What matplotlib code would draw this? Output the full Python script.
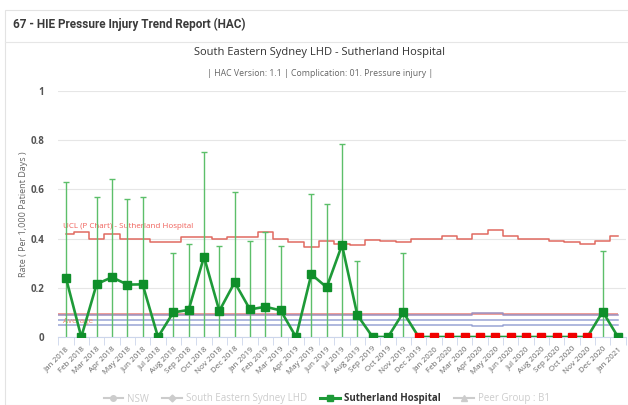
import numpy as np
import matplotlib.pyplot as plt
from matplotlib.lines import Line2D
from matplotlib.patches import Rectangle

plt.rcParams['font.family'] = ['Open Sans', 'DejaVu Sans']

# months Jan 2018 .. Jan 2021
mon = ['Jan', 'Feb', 'Mar', 'Apr', 'May', 'Jun', 'Jul', 'Aug', 'Sep', 'Oct', 'Nov', 'Dec']
months = [m + ' ' + str(y) for y in (2018, 2019, 2020) for m in mon] + ['Jan 2021']

# Sutherland Hospital rate (per 1,000 patient days)
rate = [0.24, 0, 0.215, 0.243, 0.213, 0.214, 0, 0.10, 0.11, 0.326, 0.106, 0.222,
        0.112, 0.123, 0.108, 0, 0.255, 0.202, 0.374, 0.089, 0, 0, 0.10,
        0, 0, 0, 0, 0, 0, 0, 0, 0, 0, 0, 0, 0.103, 0]
# months flagged red (no events run)
flag = [False] * 23 + [True] * 12 + [False, False]

# upper confidence bound per month (nan = none drawn)
nan = np.nan
upper = [0.631, nan, 0.57, 0.641, 0.562, 0.57, nan, 0.343, 0.378, 0.751, 0.37, 0.591,
         0.392, 0.428, 0.37, nan, 0.58, 0.539, 0.783, 0.31, nan, nan, 0.343,
         nan, nan, nan, nan, nan, nan, nan, nan, nan, nan, nan, nan, 0.351, nan]

# UCL (P chart) step line
ucl = [0.419, 0.428, 0.40, 0.42, 0.397, 0.397, 0.387, 0.387, 0.405, 0.405, 0.397, 0.408,
       0.408, 0.425, 0.40, 0.387, 0.366, 0.39, 0.378, 0.373, 0.394, 0.392, 0.386,
       0.397, 0.397, 0.41, 0.397, 0.42, 0.435, 0.41, 0.40, 0.397, 0.39, 0.387, 0.378,
       0.39, 0.412]

average = 0.094
peer_line = [0.091] * 27 + [0.096, 0.096] + [0.091] * 8
seslhd_line = [0.071] * 37
nsw_line = [0.049] * 27 + [0.046, 0.046] + [0.049] * 8

x = np.arange(len(months))

fig = plt.figure(figsize=(6.28, 4.05), dpi=100)

# panel frame and header
fig.patches.append(Rectangle((5 / 628, 0), 1, 395 / 405, transform=fig.transFigure,
                             fill=False, edgecolor='#e3e3e3', lw=0.8))
fig.add_artist(Line2D([5 / 628, 1], [1 - 42 / 405, 1 - 42 / 405], color='#e6e6e6', lw=0.8))
fig.text(13 / 628, 1 - 24 / 405, '67 - HIE Pressure Injury Trend Report (HAC)',
         fontsize=8.5, fontweight='bold', color='#3a3a3a', va='center',
         family=['Liberation Sans Narrow', 'Roboto', 'DejaVu Sans'])
fig.text(320 / 628, 1 - 53 / 405, 'South Eastern Sydney LHD - Sutherland Hospital',
         fontsize=8, color='#333333', ha='center', va='center')
fig.text(320 / 628, 1 - 73 / 405, '| HAC Version: 1.1 | Complication: 01. Pressure injury |',
         fontsize=6.3, color='#666666', ha='center', va='center')

ax = fig.add_axes([58.3 / 628, 68 / 405, 567.4 / 628, 246 / 405])
ax.set_xlim(-0.5, 36.5)
ax.set_ylim(0, 1)

ax.set_yticks([0, 0.2, 0.4, 0.6, 0.8, 1])
ax.set_yticklabels(['0', '0.2', '0.4', '0.6', '0.8', '1'])
ax.grid(axis='y', color='#e6e6e6', lw=0.8)
ax.set_axisbelow(True)
for s in ['top', 'right', 'left']:
    ax.spines[s].set_visible(False)
ax.spines['bottom'].set_color('#ccd6eb')
ax.tick_params(axis='y', length=0, pad=10, labelsize=7, labelcolor='#555555')
for t in ax.get_yticklabels():
    t.set_fontweight('bold')
ax.set_xticks(x)
ax.set_xticklabels(months, rotation=45, ha='right', rotation_mode='anchor',
                   fontsize=5.8, color='#666666')
ax.tick_params(axis='x', length=0, pad=6)
ax.set_xticks(np.arange(-0.5, 37, 1), minor=True)
ax.tick_params(axis='x', which='minor', length=6, color='#ccd6eb')
ax.set_ylabel('Rate ( Per 1,000 Patient Days )', fontsize=6.5, color='#666666', labelpad=2)

# reference lines
ax.hlines(average, -0.5, 36, color='#e8837a', lw=1.1, zorder=2)
for vals, col in [(peer_line, '#9c8fbf'), (seslhd_line, '#99a4d4'), (nsw_line, '#99a4d4')]:
    ax.hlines(vals[0], -0.5, 0, color=col, lw=1.1, zorder=2)
    ax.plot(x, vals, drawstyle='steps-mid', color=col, lw=1.1, zorder=2)

# UCL
ax.plot(x, ucl, drawstyle='steps-mid', color='#e06a60', lw=1.1, zorder=3)
ax.text(-0.2, 0.433, 'UCL (P Chart) - Sutherland Hospital', color='#f0605a',
        fontsize=5.8, va='bottom', zorder=4)
ax.text(-0.2, 0.065, 'Average', color='#f08a6a', fontsize=5.8, va='center', zorder=4)

# confidence bars
up = np.array(upper)
ok = ~np.isnan(up)
ax.vlines(x[ok], 0, up[ok], color='#5cbf6a', lw=1.0, zorder=4)
ax.plot(x[ok], up[ok], ls='none', marker='_', ms=5, mew=1.0, color='#5cbf6a', zorder=4)

# main series
green = '#1e9a38'
ax.plot(x, rate, color=green, lw=1.9, zorder=5)
r = np.array(rate)
f = np.array(flag)
ax.plot(x[~f], r[~f], ls='none', marker='s', ms=5.2, color='#0f8f2a', zorder=6)
ax.plot(x[f], r[f], ls='none', marker='s', ms=5.2, color='#f00000', zorder=6)

# legend
handles = [
    Line2D([], [], color='#cccccc', lw=1.5, marker='o', ms=4),
    Line2D([], [], color='#cccccc', lw=1.5, marker='D', ms=3.5),
    Line2D([], [], color=green, lw=2.2, marker='s', ms=5),
    Line2D([], [], color='#cccccc', lw=1.5, marker='^', ms=4),
]
labels = ['NSW', 'South Eastern Sydney LHD', 'Sutherland Hospital', 'Peer Group : B1']
leg = fig.legend(handles, labels, loc='center', bbox_to_anchor=(0.52, 6 / 405), ncol=4,
                 frameon=False, fontsize=7, handlelength=2, columnspacing=1.4,
                 handletextpad=0.4,
                 labelcolor=['#cccccc', '#cccccc', '#333333', '#cccccc'])
leg.get_texts()[2].set_fontweight('bold')

fig.savefig('out.png', dpi=100)
